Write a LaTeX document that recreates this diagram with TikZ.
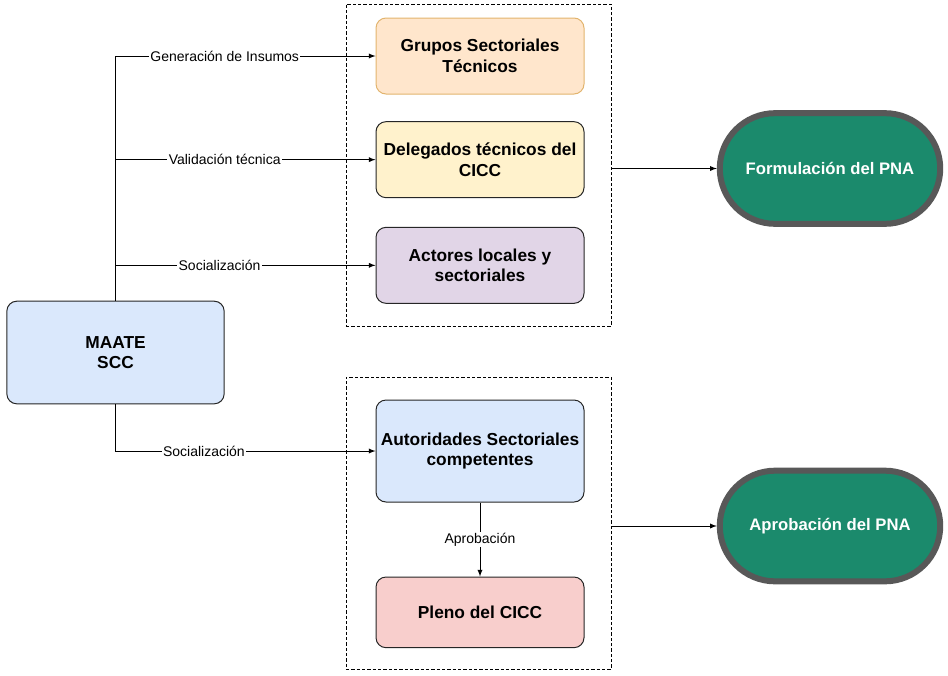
\documentclass[tikz,border=0pt]{standalone}
\usepackage{fontspec}
\setmainfont{Liberation Sans}
\usetikzlibrary{shapes.misc,arrows,positioning}
\definecolor{peach}{RGB}{255,230,204}
\definecolor{dpeach}{RGB}{226,180,110}
\definecolor{lyellow}{RGB}{255,242,204}
\definecolor{lpurple}{RGB}{225,213,231}
\definecolor{lblue}{RGB}{218,232,252}
\definecolor{lred}{RGB}{248,206,204}
\definecolor{pnagreen}{RGB}{27,138,108}
\definecolor{dgray}{RGB}{88,88,88}
\tikzstyle{arrow} = [line width=0.75pt, -latex]
\tikzset{
    block/.style={
        rectangle, rounded corners=7.5pt,
        minimum width=156pt, minimum height=57pt,
        align=center, draw=black!85, line width=0.75pt,
        font=\bfseries\fontsize{13}{15.5}\selectfont
    },
    group/.style={
        draw, dash pattern=on 2.5pt off 1.5pt,
        minimum width=199pt
    },
    terminal/.style={
        rounded rectangle, draw=dgray, line width=4.5pt,
        fill=pnagreen, text=white,
        minimum width=172pt, minimum height=83pt,
        font=\bfseries\fontsize{12.5}{15}\selectfont
    },
    descr/.style={
        fill=white,
        inner sep=1pt,
        font=\fontsize{10.5}{12}\selectfont
    }
}

\begin{document}
\begin{tikzpicture}[x=0.75pt,y=-0.75pt]
    \useasboundingbox (0,0) rectangle (948,675);

    % dashed groups
    \node[group, minimum height=241.5pt] (top) at (478.5,165) {};
    \node[group, minimum height=219pt] (bottom) at (478.5,523) {};

    % blocks
    \node[block, fill=lblue, minimum width=163pt, minimum height=77pt] (maate) at (115.5,352.5) {MAATE\\SCC};
    \node[block, fill=peach, draw=dpeach] (grupos) at (480,56) {Grupos Sectoriales\\Técnicos};
    \node[block, fill=lyellow, below=20pt of grupos] (delegados) {Delegados técnicos del\\CICC};
    \node[block, fill=lpurple, below=21.5pt of delegados] (actores) {Actores locales y\\sectoriales};
    \node[block, fill=lblue, minimum height=76.5pt] (autoridades) at (480,451) {Autoridades Sectoriales\\competentes};
    \node[block, fill=lred, minimum height=53pt, below=55.5pt of autoridades] (pleno) {Pleno del CICC};

    % results
    \node[terminal] (formulacion) at (830,168.5) {Formulación del PNA};
    \node[terminal] (aprobacion) at (830,526) {Aprobación del PNA};

    % connectors
    \draw[arrow] (maate.north) |- (grupos.west) node[descr, pos=0.71] {Generación de Insumos};
    \draw[arrow] (maate.north) |- (delegados.west) node[descr, pos=0.71] {Validación técnica};
    \draw[arrow] (maate.north) |- (actores.west) node[descr, pos=0.70] {Socialización};
    \draw[arrow] (maate.south) |- (autoridades.west) node[descr, pos=0.67] {Socialización};
    \draw[arrow] (autoridades) -- (pleno) node[descr, midway] {Aprobación};
    \draw[arrow] (top.east |- formulacion.west) -- (formulacion);
    \draw[arrow] (bottom.east |- aprobacion.west) -- (aprobacion);
\end{tikzpicture}
\end{document}
